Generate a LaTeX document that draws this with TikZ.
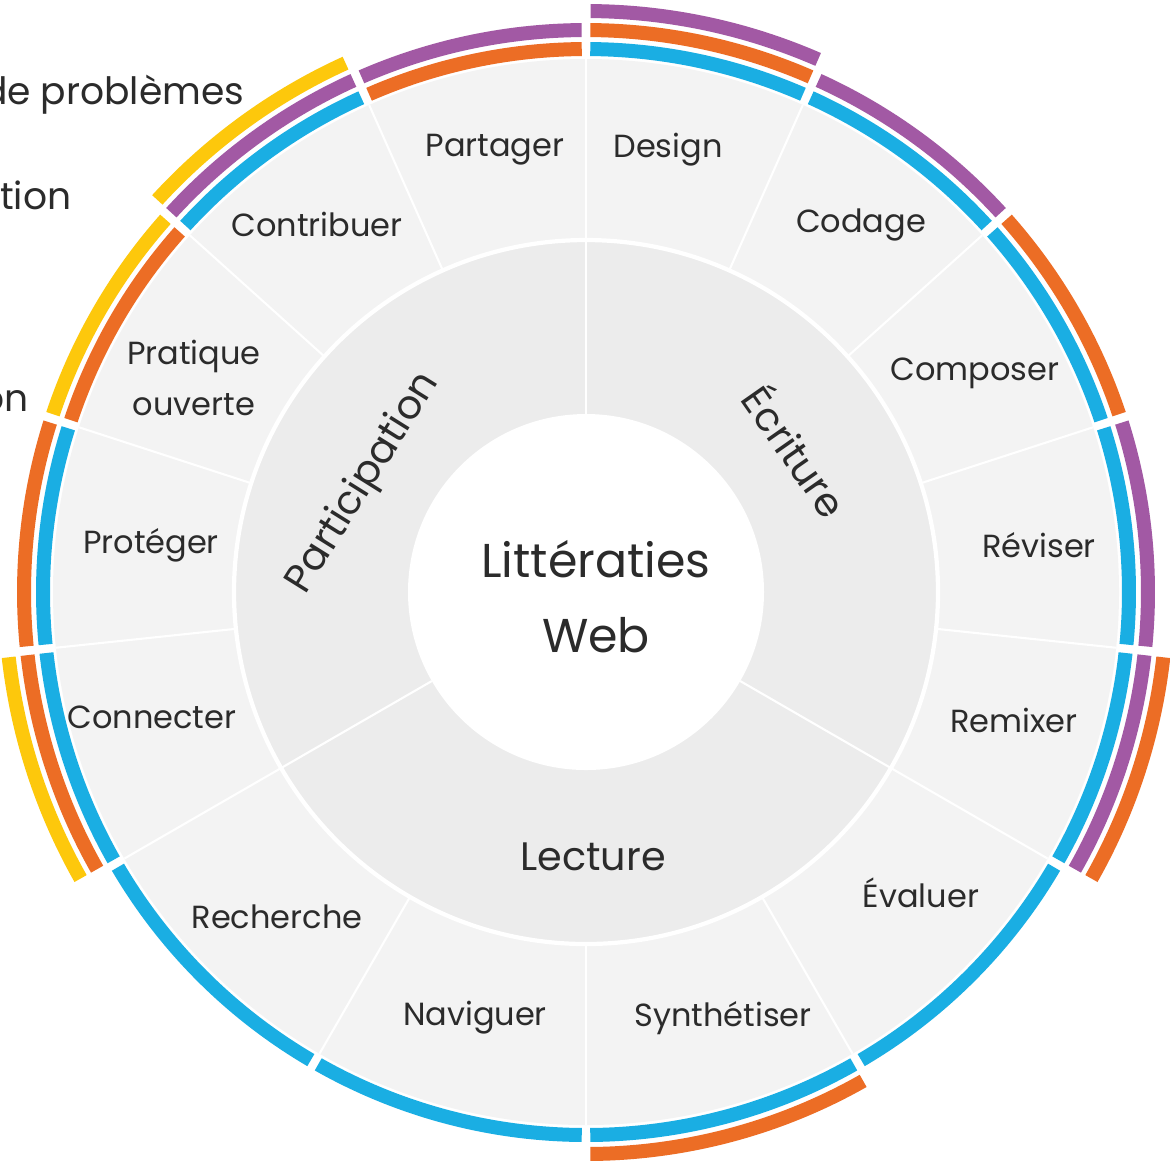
\documentclass[tikz,border=0pt]{standalone}
\usepackage{fontspec}
\setmainfont{Poppins}
\usetikzlibrary{positioning}

\definecolor{wblue}{HTML}{1AAEE3}
\definecolor{worange}{HTML}{EC6D25}
\definecolor{wpurple}{HTML}{A259A4}
\definecolor{wyellow}{HTML}{FDC80C}
\definecolor{ringout}{HTML}{F3F3F3}
\definecolor{ringmid}{HTML}{ECECEC}
\definecolor{txt}{HTML}{2B2B2B}

\begin{document}
\begin{tikzpicture}[x=0.01cm,y=0.01cm,
   skill/.style={text=txt,inner sep=0pt,font=\fontsize{9.1}{14.5}\selectfont},
   sector/.style={text=txt,inner sep=0pt,font=\fontsize{11.3}{14}\selectfont},
   core/.style={text=txt,inner sep=0pt,align=center,font=\fontsize{13.5}{21.3}\selectfont},
   legend/.style={text=txt,inner sep=0pt,font=\fontsize{10.7}{13}\selectfont},
   divider/.style={white,line width=0.6pt}]
   \useasboundingbox[fill=white] (0,0) rectangle (1170,-1162);
   \coordinate (c) at (586,-592);

   % rings
   \fill[ringout] (c) circle (533);
   \fill[ringmid] (c) circle (352);
   \draw[white,line width=1.2pt] (c) circle (352);
   \fill[white] (c) circle (178);

   \begin{scope}[shift={(c)}]
   \foreach \a in {90,66,42,18,-6,-30,-60,-90,-120,-150,-174,-198,-222,-246}
      \draw[divider] (\a:352) -- (\a:533);
   \foreach \a in {90,-30,210}
      \draw[divider] (\a:178) -- (\a:352);

   % coloured bands: from / to / level / colour
   \foreach \a/\b/\lev/\col in {
      114/90/1/worange, 114/90/2/wpurple,
      90/66/1/wblue, 90/66/2/worange, 90/66/3/wpurple,
      66/42/1/wblue, 66/42/2/wpurple,
      42/18/1/wblue, 42/18/2/worange,
      18/-6/1/wblue, 18/-6/2/wpurple,
      -6/-30/1/wblue, -6/-30/2/wpurple, -6/-30/3/worange,
      -30/-60/1/wblue,
      -60/-90/1/wblue, -60/-90/2/worange,
      -90/-120/1/wblue,
      -120/-150/1/wblue,
      -150/-174/1/wblue, -150/-174/2/worange, -150/-174/3/wyellow,
      -174/-198/1/wblue, -174/-198/2/worange,
      -198/-222/1/worange, -198/-222/2/wyellow,
      -222/-246/1/wblue, -222/-246/2/wpurple, -222/-246/3/wyellow}
      \fill[\col] ({\a-0.45}:{517+19*\lev})
         arc[start angle={\a-0.45},end angle={\b+0.45},radius={517+19*\lev}]
         -- ({\b+0.45}:{531+19*\lev})
         arc[start angle={\b+0.45},end angle={\a-0.45},radius={531+19*\lev}] -- cycle;
   \end{scope}

   % outer labels
   \node[skill] (partager) at (495,-150) {Partager};
   \node[skill] (design) at (668,-150) {Design};
   \node[skill] (codage) at (861,-225) {Codage};
   \node[skill] (composer) at (975,-373) {Composer};
   \node[skill] (reviser) at (1039,-545) {Réviser};
   \node[skill] (remixer) at (1014,-720) {Remixer};
   \node[skill] (evaluer) at (921,-893) {Évaluer};
   \node[skill] (synth) at (723,-1018) {Synthétiser};
   \node[skill] (naviguer) at (475,-1018) {Naviguer};
   \node[skill] (recherche) at (277,-917) {Recherche};
   \node[skill] (connecter) at (152,-717) {Connecter};
   \node[skill] (proteger) at (151,-545) {Protéger};
   \node[skill,align=center] (pratique) at (194,-378) {Pratique\\ouverte};
   \node[skill] (contribuer) at (317,-224) {Contribuer};

   % middle ring
   \node[sector,rotate=-55] (ecriture) at (797,-450) {Écriture};
   \node[sector] (lecture) at (593,-857) {Lecture};
   \node[sector,rotate=58] (participation) at (364,-483) {Participation};

   \node[core] (litt) at (596,-597) {Littératies\\Web};

   % legend cut by the page edge
   \node[legend,anchor=base east] (leg1) at (245,-104) {de problèmes};
   \node[legend,anchor=base east] (leg2) at (72,-209) {tion};
   \node[legend,anchor=base east] (leg3) at (29,-411) {on};
\end{tikzpicture}
\end{document}
